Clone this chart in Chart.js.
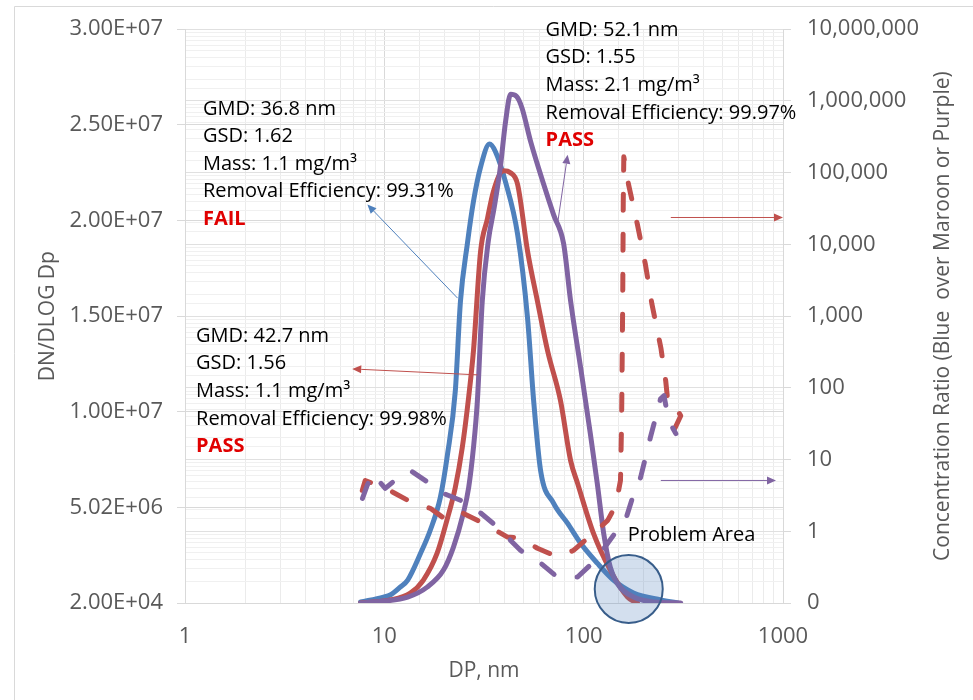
<!DOCTYPE html>
<html>
<head>
<meta charset="utf-8">
<script src="https://cdn.jsdelivr.net/npm/chart.js@4.4.1/dist/chart.umd.min.js"></script>
<style>
  html, body { margin: 0; padding: 0; background: #fff; }
  #wrap { position: relative; width: 973px; height: 700px; }
</style>
</head>
<body>
<div id="wrap"><canvas id="psd" width="973" height="700"></canvas></div>
<script>
// Particle size distributions (left axis) and concentration ratios (right axis)
const dpBlue = [7.6, 9.9, 10.7, 12.0, 13.1, 15.2, 17.0, 19.1, 20.7, 22.7, 24.1, 26.1, 28.0, 30.4, 33.7, 36.1, 40.6, 46.6, 52.3, 56.1, 60.8, 70.7, 83.1, 96.6, 117, 141, 178, 244, 297];
const dnBlue = [7e4, 3.3e5, 4.4e5, 8.5e5, 1.22e6, 2.62e6, 3.82e6, 5.54e6, 7.72e6, 1.11e7, 1.58e7, 1.88e7, 2.10e7, 2.28e7, 2.40e7, 2.36e7, 2.20e7, 1.93e7, 1.49e7, 1.06e7, 6.94e6, 5.23e6, 4.18e6, 3.14e6, 2.10e6, 1.22e6, 5.4e5, 1.8e5, 2e4];

const dpRed = [7.6, 10.7, 13.5, 15.7, 18.4, 20.6, 22.7, 24.6, 26.5, 28.0, 30.4, 32.9, 35.2, 39.6, 42.9, 46.6, 52.3, 58.6, 65.9, 76.5, 86.0, 93.2, 112, 136, 166, 186];
const dnRed = [2e4, 1.8e5, 5.4e5, 1.22e6, 2.62e6, 4.34e6, 6.06e6, 8.14e6, 1.08e7, 1.32e7, 1.84e7, 2.01e7, 2.15e7, 2.26e7, 2.25e7, 2.19e7, 1.84e7, 1.58e7, 1.32e7, 1.06e7, 7.46e6, 6.27e6, 3.66e6, 1.74e6, 3.3e5, 2e4];

const dpPurple = [7.6, 8.8, 13.1, 16.4, 19.8, 22.2, 24.9, 26.5, 28.0, 29.3, 31.0, 33.2, 35.6, 38.1, 40.6, 43.0, 46.0, 49.0, 54.3, 63.0, 70.7, 79.3, 86.0, 96.6, 108, 117, 126, 136, 147, 178, 225, 307];
const dnPurple = [2e4, 7e4, 3.3e5, 8.5e5, 1.74e6, 2.93e6, 4.70e6, 6.06e6, 8.14e6, 1.06e7, 1.58e7, 1.89e7, 2.07e7, 2.27e7, 2.52e7, 2.66e7, 2.65e7, 2.59e7, 2.41e7, 2.19e7, 2.03e7, 1.88e7, 1.58e7, 1.23e7, 8.87e6, 6.27e6, 3.66e6, 1.89e6, 1.06e6, 3.3e5, 7e4, 2e4];

// Blue over maroon
const dpRedRatio = [7.75, 8.02, 9.89, 11.1, 14.0, 17.0, 20.6, 24.9, 31.4, 41.5, 48.3, 58.6, 73.8, 88.9, 112, 132, 145, 153, 155, 157, 158, 159, 168, 186, 204, 220, 244, 258, 265, 290, 307, 273];
const ratioRed = [3.71, 5.11, 4.08, 3.48, 2.45, 2.09, 1.42, 1.78, 1.29, 0.83, 0.80, 0.58, 0.44, 0.54, 0.94, 1.42, 2.30, 5.11, 34.8, 1620, 39800, 166000, 68000, 19000, 5270, 1470, 360, 125, 60, 52.7, 40.8, 20.3];

// Blue over purple
const dpPurpleRatio = [7.77, 8.2, 8.7, 10.1, 11.6, 13.5, 16.6, 19.8, 24.1, 29.3, 36.1, 48.3, 60.8, 73.8, 93.2, 115, 147, 162, 176, 193, 216, 243, 253, 267, 290];
const ratioPurple = [2.87, 4.35, 6.39, 3.96, 5.45, 7.03, 4.8, 3.37, 2.70, 1.96, 1.21, 0.54, 0.36, 0.23, 0.23, 0.40, 1.03, 1.42, 2.97, 5.62, 20.2, 70.3, 77.6, 34.8, 23.0];

// Axes
const xMin = 1, xMax = 1000;
const leftMin = 2e4, leftMax = 3e7;
const leftTickLabels = ['2.00E+04', '5.02E+06', '1.00E+07', '1.50E+07', '2.00E+07', '2.50E+07', '3.00E+07'];
const rightMin = 0.1, rightMax = 1e7;

const BLUE = '#4f81bd', RED = '#c0504d', PURPLE = '#8064a2';
const FONT = "'Open Sans', sans-serif";
const AXIS_TEXT = '#595959';

const isDecade = v => Math.abs(Math.log10(v) - Math.round(Math.log10(v))) < 1e-6;
const withCommas = v => String(Math.round(v)).replace(/\B(?=(\d{3})+(?!\d))/g, ',');
const pts = (xs, ys) => xs.map((x, i) => ({ x, y: ys[i] }));

// Text boxes, arrows and the circled area, placed in data units
const notes = [
  { at: [1.23, 25.84e6], lines: ['GMD: 36.8 nm', 'GSD: 1.62', 'Mass: 1.1 mg/m³', 'Removal Efficiency: 99.31%'], verdict: 'FAIL' },
  { at: [1.136, 13.97e6], lines: ['GMD: 42.7 nm', 'GSD: 1.56', 'Mass: 1.1 mg/m³', 'Removal Efficiency: 99.98%'], verdict: 'PASS' },
  { at: [64.4, 29.95e6], lines: ['GMD: 52.1 nm', 'GSD: 1.55', 'Mass: 2.1 mg/m³', 'Removal Efficiency: 99.97%'], verdict: 'PASS' }
];
const arrows = [
  { from: [23.3, 15.95e6], to: [8.22, 20.84e6], axis: 'y', color: BLUE },
  { from: [74.0, 19.85e6], to: [83.1, 23.44e6], axis: 'y', color: PURPLE },
  { from: [29.3, 11.94e6], to: [6.90, 12.25e6], axis: 'y', color: RED },
  { from: [273.6, 23700], to: [1000, 23700], axis: 'y2', color: RED },
  { from: [243.8, 5.11], to: [922, 5.11], axis: 'y2', color: PURPLE }
];
const problemArea = { at: [168.3, 0.75e6], label: 'Problem Area', labelAt: [166.4, 3.56e6] };

function drawArrow(ctx, x1, y1, x2, y2, color) {
  const ang = Math.atan2(y2 - y1, x2 - x1);
  const head = 9, half = 4;
  ctx.save();
  ctx.strokeStyle = color;
  ctx.fillStyle = color;
  ctx.lineWidth = 1;
  ctx.beginPath();
  ctx.moveTo(x1, y1);
  ctx.lineTo(x2 - Math.cos(ang) * head, y2 - Math.sin(ang) * head);
  ctx.stroke();
  ctx.beginPath();
  ctx.moveTo(x2, y2);
  ctx.lineTo(x2 - Math.cos(ang) * head - Math.sin(ang) * half, y2 - Math.sin(ang) * head + Math.cos(ang) * half);
  ctx.lineTo(x2 - Math.cos(ang) * head + Math.sin(ang) * half, y2 - Math.sin(ang) * head - Math.cos(ang) * half);
  ctx.closePath();
  ctx.fill();
  ctx.restore();
}

const decorations = {
  id: 'decorations',
  beforeDraw(chart) {
    const ctx = chart.ctx;
    ctx.save();
    ctx.strokeStyle = '#d9d9d9';
    ctx.lineWidth = 1;
    ctx.beginPath();
    ctx.moveTo(14.5, chart.height);
    ctx.lineTo(14.5, 6.5);
    ctx.lineTo(chart.width, 6.5);
    ctx.stroke();
    ctx.restore();
  },
  afterDatasetsDraw(chart) {
    const ctx = chart.ctx;
    const { x, y, y2 } = chart.scales;
    const axes = { y, y2 };

    // circled problem area
    const cx = x.getPixelForValue(problemArea.at[0]);
    const cy = y.getPixelForValue(problemArea.at[1]);
    ctx.save();
    ctx.beginPath();
    ctx.arc(cx, cy, 34, 0, Math.PI * 2);
    ctx.fillStyle = 'rgba(79, 129, 189, 0.25)';
    ctx.fill();
    ctx.lineWidth = 2;
    ctx.strokeStyle = '#385d8a';
    ctx.stroke();
    ctx.restore();

    arrows.forEach(a => {
      drawArrow(ctx,
        x.getPixelForValue(a.from[0]), axes[a.axis].getPixelForValue(a.from[1]),
        x.getPixelForValue(a.to[0]), axes[a.axis].getPixelForValue(a.to[1]), a.color);
    });

    ctx.save();
    ctx.textBaseline = 'middle';
    ctx.textAlign = 'left';
    notes.forEach(n => {
      const nx = x.getPixelForValue(n.at[0]);
      const ny = y.getPixelForValue(n.at[1]);
      ctx.font = `20px ${FONT}`;
      ctx.fillStyle = '#000';
      n.lines.forEach((t, i) => ctx.fillText(t, nx, ny + i * 27.6));
      ctx.font = `bold 20px ${FONT}`;
      ctx.fillStyle = '#e00000';
      ctx.fillText(n.verdict, nx, ny + n.lines.length * 27.6);
    });
    ctx.font = `20px ${FONT}`;
    ctx.fillStyle = '#000';
    ctx.fillText(problemArea.label, x.getPixelForValue(problemArea.labelAt[0]), y.getPixelForValue(problemArea.labelAt[1]));
    ctx.restore();
  },
  afterDraw(chart) {
    const ctx = chart.ctx;
    const area = chart.chartArea;
    const midY = (area.top + area.bottom) / 2;
    ctx.save();
    ctx.fillStyle = AXIS_TEXT;
    ctx.font = `21px ${FONT}`;
    ctx.textAlign = 'center';
    ctx.textBaseline = 'middle';
    ctx.fillText('DP, nm', (area.left + area.right) / 2, 671);

    ctx.translate(48, midY);
    ctx.rotate(-Math.PI / 2);
    ctx.fillText('DN/DLOG Dp', 0, 0);
    ctx.restore();

    ctx.save();
    ctx.fillStyle = AXIS_TEXT;
    ctx.font = `21px ${FONT}`;
    ctx.textAlign = 'center';
    ctx.textBaseline = 'middle';
    ctx.translate(943, midY);
    ctx.rotate(-Math.PI / 2);
    ctx.fillText('Concentration Ratio (Blue  over Maroon or Purple)', 0, 0);
    ctx.restore();
  }
};

const solid = (data, color, order) => ({
  data, order, yAxisID: 'y',
  borderColor: color, borderWidth: 5, pointRadius: 0,
  cubicInterpolationMode: 'monotone',
  borderCapStyle: 'round', borderJoinStyle: 'round', fill: false
});
const dashed = (data, color, order) => ({
  data, order, yAxisID: 'y2',
  borderColor: color, borderWidth: 5, pointRadius: 0, tension: 0,
  borderDash: [16, 24], borderCapStyle: 'round', borderJoinStyle: 'round', fill: false
});

new Chart(document.getElementById('psd').getContext('2d'), {
  type: 'line',
  data: {
    datasets: [
      solid(pts(dpBlue, dnBlue), BLUE, 5),
      solid(pts(dpRed, dnRed), RED, 4),
      solid(pts(dpPurple, dnPurple), PURPLE, 3),
      dashed(pts(dpRedRatio, ratioRed), RED, 2),
      dashed(pts(dpPurpleRatio, ratioPurple), PURPLE, 1)
    ]
  },
  options: {
    responsive: false,
    animation: false,
    devicePixelRatio: 1,
    layout: { padding: { top: 27, left: 0, right: 0, bottom: 0 } },
    plugins: { legend: { display: false }, tooltip: { enabled: false } },
    scales: {
      x: {
        type: 'logarithmic',
        position: 'bottom',
        min: xMin, max: xMax,
        afterFit: s => { s.height = 97; },
        border: { color: '#d9d9d9' },
        grid: { color: c => isDecade(c.tick.value) ? '#d9d9d9' : '#ebebeb', drawTicks: false },
        ticks: {
          autoSkip: false, maxRotation: 0, padding: 21,
          color: AXIS_TEXT, font: { family: FONT, size: 22 },
          callback: v => isDecade(v) ? String(Math.round(v)) : ''
        }
      },
      y: {
        type: 'linear',
        position: 'left',
        min: leftMin, max: leftMax,
        afterFit: s => { s.width = 185; },
        afterBuildTicks: s => {
          const n = leftTickLabels.length - 1;
          s.ticks = leftTickLabels.map((_, i) => ({ value: leftMin + (leftMax - leftMin) * i / n }));
        },
        border: { color: '#d9d9d9' },
        grid: { color: '#d9d9d9', tickColor: '#d9d9d9', tickLength: 8 },
        ticks: {
          padding: 14, color: AXIS_TEXT, font: { family: FONT, size: 22 },
          callback: (v, i) => leftTickLabels[i]
        }
      },
      y2: {
        type: 'logarithmic',
        position: 'right',
        min: rightMin, max: rightMax,
        afterFit: s => { s.width = 190; },
        border: { color: '#d9d9d9' },
        grid: {
          drawOnChartArea: true, tickLength: 8,
          color: c => isDecade(c.tick.value) ? '#e0e0e0' : '#f0f0f0',
          tickColor: c => isDecade(c.tick.value) ? '#d9d9d9' : 'rgba(0,0,0,0)'
        },
        ticks: {
          autoSkip: false, padding: 16, color: AXIS_TEXT, font: { family: FONT, size: 22 },
          callback: v => isDecade(v) ? (v < 1 ? '0' : withCommas(v)) : ''
        }
      }
    }
  },
  plugins: [decorations]
});
</script>
</body>
</html>
